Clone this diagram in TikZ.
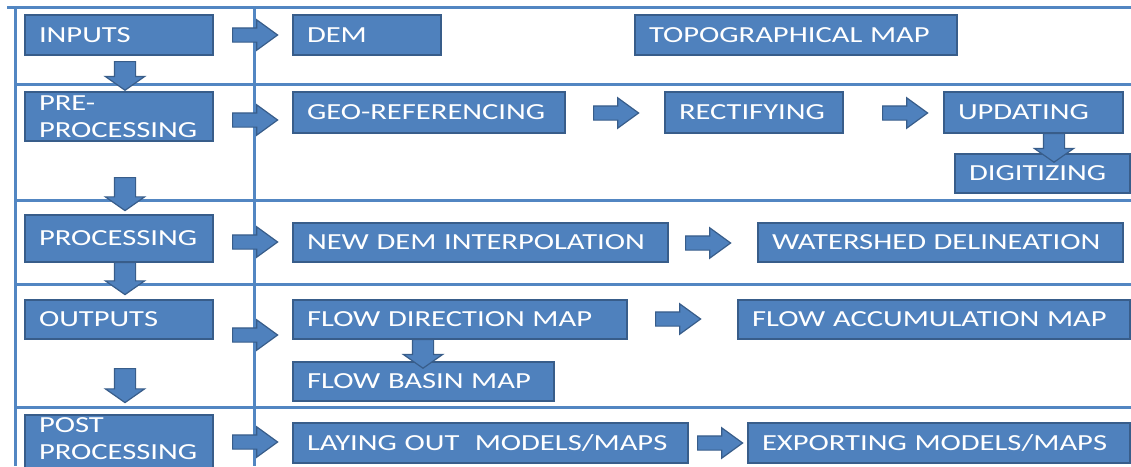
\documentclass[tikz,border=0pt]{standalone}
\usepackage{fontspec}
\setmainfont{Carlito}[FakeStretch=1.33]
\usetikzlibrary{shapes.arrows}

\definecolor{boxfill}{HTML}{4F81BD}
\definecolor{boxline}{HTML}{385D8A}
\definecolor{gridline}{HTML}{5286C2}

\tikzset{
  stage/.style={draw=boxline, fill=boxfill, line width=1.5pt, outer sep=0pt,
    anchor=north west, text=white, align=left, inner xsep=14pt, inner ysep=0pt,
    font=\fontsize{23}{26.5}\selectfont, text height=14.5pt, text depth=0pt},
  twoline/.style={text depth=26.5pt},
  grid/.style={draw=gridline, line width=3pt},
  rarrow/.style={single arrow, draw=boxline, fill=boxfill, line width=1.2pt,
    anchor=tail, inner sep=6.5pt, single arrow head extend=8pt,
    minimum width=29pt, minimum height=45pt, single arrow tip angle=72},
  darrow/.style={single arrow, shape border rotate=270, draw=boxline, fill=boxfill,
    line width=1.2pt, anchor=tail, inner sep=10pt, single arrow head extend=9pt,
    minimum width=38pt, single arrow tip angle=110}
}

\begin{document}
\begin{tikzpicture}[x=1pt,y=-1pt]
\useasboundingbox (0,0) rectangle (1131,466);
\clip (0,0) rectangle (1131,466);

% table rules
\draw[grid] (7,7) -- (1131,7);
\draw[grid] (15,84) -- (1131,84);
\draw[grid] (15,200) -- (1131,200);
\draw[grid] (15,284) -- (1131,284);
\draw[grid] (15,407) -- (1131,407);
\draw[grid] (15,7) -- (15,466);
\draw[grid] (254,7) -- (254,466);

% stage column
\node[stage, minimum width=188, minimum height=40, text width=160] (inputs) at (25,15) {INPUTS};
\node[stage, twoline, minimum width=188, minimum height=49, text width=160] (pre) at (25,92) {PRE-\\PROCESSING};
\node[stage, minimum width=188, minimum height=47, text width=160] (proc) at (25,215) {PROCESSING};
\node[stage, minimum width=188, minimum height=39, text width=160] (outputs) at (25,300) {OUTPUTS};
\node[stage, twoline, text depth=35pt, minimum width=188, minimum height=56, text width=160] (post) at (25,415) {POST\\PROCESSING};

% task column
\node[stage, minimum width=148, minimum height=40, text width=120] (dem) at (293,15) {DEM};
\node[stage, minimum width=322, minimum height=40, text width=294] (topo) at (635,15) {\mbox{TOPOGRAPHICAL MAP}};
\node[stage, minimum width=272, minimum height=41, text width=244] (geo) at (293,92) {GEO-REFERENCING};
\node[stage, minimum width=178, minimum height=41, text width=150] (rect) at (665,92) {RECTIFYING};
\node[stage, minimum width=179, minimum height=41, text width=151] (upd) at (944,92) {UPDATING};
\node[stage, minimum width=175, minimum height=39, text width=147] (dig) at (955,154) {DIGITIZING};
\node[stage, minimum width=375, minimum height=39, text width=347] (newdem) at (293,223) {\mbox{NEW DEM INTERPOLATION}};
\node[stage, minimum width=365, minimum height=39, text width=337] (water) at (758,223) {\mbox{WATERSHED DELINEATION}};
\node[stage, minimum width=334, minimum height=39, text width=306] (fdir) at (293,300) {\mbox{FLOW DIRECTION MAP}};
\node[stage, minimum width=392, minimum height=39, text width=364] (facc) at (738,300) {\mbox{FLOW ACCUMULATION MAP}};
\node[stage, minimum width=261, minimum height=39, text width=233] (fbas) at (293,362) {\mbox{FLOW BASIN MAP}};
\node[stage, minimum width=395, minimum height=40, text width=367] (lay) at (293,423) {\mbox{LAYING OUT\ \ MODELS/MAPS}};
\node[stage, minimum width=382, minimum height=40, text width=354] (exp) at (748,423) {\mbox{EXPORTING MODELS/MAPS}};

% downward arrows between stages
\node[darrow, minimum height=24] (d1) at (125,61) {};
\node[darrow, minimum height=33] (d2) at (125,177) {};
\node[darrow, minimum height=32] (d3) at (125,262) {};
\node[darrow, minimum height=34] (d4) at (125,368) {};
\node[darrow, minimum height=23] (d5) at (1054,133) {};
\node[darrow, minimum height=23] (d6) at (423,339) {};

% arrows from each stage to its tasks
\node[rarrow] (r1) at (232,35) {};
\node[rarrow] (r2) at (232,120) {};
\node[rarrow] (r3) at (232,242) {};
\node[rarrow] (r4) at (232,335) {};
\node[rarrow] (r5) at (232,442) {};

% arrows between tasks
\node[rarrow] (r6) at (593,113) {};
\node[rarrow] (r7) at (882,113) {};
\node[rarrow] (r8) at (685,243) {};
\node[rarrow] (r9) at (655,319) {};
\node[rarrow] (r10) at (697,443) {};
\end{tikzpicture}
\end{document}
